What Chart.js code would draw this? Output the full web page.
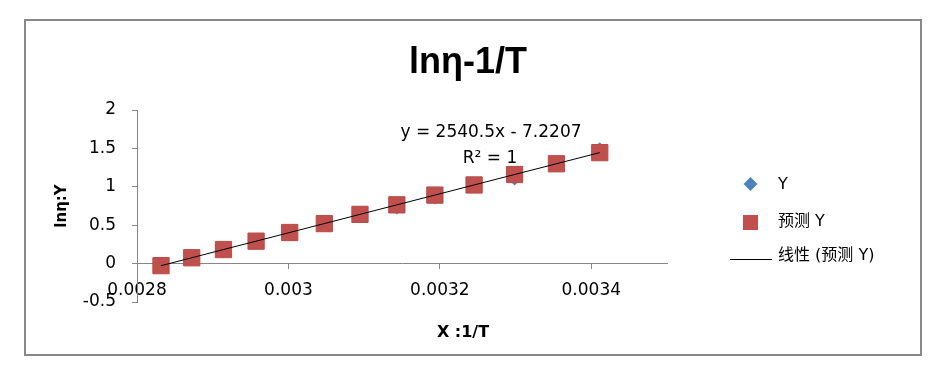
<!DOCTYPE html>
<html>
<head>
<meta charset="utf-8">
<script src="https://cdn.jsdelivr.net/npm/chart.js@4.4.1/dist/chart.umd.min.js"></script>
<style>
  html, body { margin: 0; padding: 0; background: #fff; }
  #wrap { width: 940px; height: 368px; }
</style>
</head>
<body>
<div id="wrap"><canvas id="graph-box" width="940" height="368"></canvas></div>
<script>
const xValues = [0.0028317, 0.0028723, 0.0029142, 0.0029573, 0.0030017, 0.0030474, 0.0030945,
                 0.0031432, 0.0031934, 0.0032452, 0.0032987, 0.0033540, 0.0034112];
const yActual = [-0.04, 0.07, 0.14, 0.28, 0.43, 0.49, 0.62, 0.71, 0.84, 1.02, 1.09, 1.30, 1.51];
const yPredicted = [-0.027, 0.076, 0.183, 0.292, 0.405, 0.521, 0.641, 0.765, 0.892, 1.024, 1.160, 1.300, 1.445];
const xTicks = [0.0028, 0.003, 0.0032, 0.0034];
const yTicks = [-0.5, 0, 0.5, 1, 1.5, 2];
const seriesNames = ['Y', '预测 Y', '线性 (预测 Y)'];
const chartTitle = 'lnη-1/T';
const xTitle = 'X :1/T';
const yTitle = 'lnη:Y';
const trendText = ['y = 2540.5x - 7.2207', 'R² = 1'];

const toPoints = (xs, ys) => xs.map((x, i) => ({ x: x, y: ys[i] }));
const axisGray = '#868686';
const blue = '#4F81BD';
const red = '#C0504D';

Chart.defaults.font.family = 'DejaVu Sans';
Chart.defaults.color = '#000';

const extras = {
  id: 'extras',
  beforeDraw(chart) {
    const ctx = chart.ctx;
    ctx.save();
    ctx.fillStyle = '#fff';
    ctx.fillRect(0, 0, chart.width, chart.height);
    ctx.strokeStyle = '#888';
    ctx.lineWidth = 2;
    ctx.strokeRect(25, 20, 896, 335);
    ctx.restore();
  },
  afterDraw(chart) {
    const ctx = chart.ctx;
    ctx.save();
    ctx.fillStyle = '#000';
    ctx.textBaseline = 'alphabetic';

    ctx.textAlign = 'center';
    ctx.font = 'bold 36px "Liberation Sans"';
    ctx.fillText(chartTitle, 468, 73);
    ctx.font = 'bold 16px "DejaVu Sans"';
    ctx.fillText(xTitle, 463, 337);
    ctx.font = '17px "DejaVu Sans"';
    ctx.fillText(trendText[0], 491, 137);
    ctx.fillText(trendText[1], 490, 163);

    // legend
    ctx.textAlign = 'left';
    ctx.font = '16px "DejaVu Sans", "Noto Sans CJK SC"';
    ctx.fillText(seriesNames[0], 778, 189);
    ctx.fillText(seriesNames[1], 778, 226);
    ctx.fillText(seriesNames[2], 778, 260);

    ctx.fillStyle = blue;
    ctx.beginPath();
    ctx.moveTo(750.5, 177);
    ctx.lineTo(757.5, 184);
    ctx.lineTo(750.5, 191);
    ctx.lineTo(743.5, 184);
    ctx.closePath();
    ctx.fill();

    ctx.fillStyle = red;
    ctx.fillRect(743, 215, 15, 15);

    ctx.strokeStyle = '#000';
    ctx.lineWidth = 1;
    ctx.beginPath();
    ctx.moveTo(730, 259.5);
    ctx.lineTo(772, 259.5);
    ctx.stroke();
    ctx.restore();
  }
};

new Chart(document.getElementById('graph-box'), {
  type: 'scatter',
  data: {
    datasets: [
      {
        label: seriesNames[0],
        data: toPoints(xValues, yActual),
        pointStyle: 'rectRot',
        pointRadius: 5.5,
        backgroundColor: blue,
        borderColor: blue,
        borderWidth: 0,
        order: 3
      },
      {
        label: seriesNames[1],
        data: toPoints(xValues, yPredicted),
        pointStyle: 'rect',
        pointRadius: 11.5,
        backgroundColor: red,
        borderColor: '#B94A47',
        borderWidth: 1,
        order: 2
      },
      {
        label: seriesNames[2],
        data: toPoints(xValues, yPredicted),
        showLine: true,
        pointRadius: 0,
        borderColor: '#000',
        borderWidth: 1,
        fill: false,
        order: 1
      }
    ]
  },
  options: {
    responsive: false,
    animation: false,
    events: [],
    layout: { padding: { left: 0, top: 110, right: 273, bottom: 66 } },
    plugins: {
      legend: { display: false },
      tooltip: { enabled: false }
    },
    scales: {
      x: {
        type: 'linear',
        min: 0.0028,
        max: 0.0035,
        position: { y: 0 },
        afterBuildTicks: (scale) => { scale.ticks = xTicks.map(v => ({ value: v })); },
        grid: { drawOnChartArea: false, drawTicks: true, tickLength: 5, color: axisGray },
        border: { color: axisGray, width: 1 },
        ticks: {
          font: { size: 17 },
          padding: 12,
          maxRotation: 0,
          callback: (v) => String(v)
        }
      },
      y: {
        type: 'linear',
        min: -0.5,
        max: 2,
        afterBuildTicks: (scale) => { scale.ticks = yTicks.map(v => ({ value: v })); },
        afterFit: (scale) => { scale.width = 137; },
        grid: { drawOnChartArea: false, drawTicks: true, tickLength: 5, color: axisGray },
        border: { color: axisGray, width: 1 },
        ticks: {
          font: { size: 17 },
          padding: 16,
          callback: (v) => String(v)
        },
        title: {
          display: true,
          text: yTitle,
          font: { size: 15, weight: 'bold' },
          padding: { top: 53, bottom: 0 }
        }
      }
    }
  },
  plugins: [extras]
});
</script>
</body>
</html>
